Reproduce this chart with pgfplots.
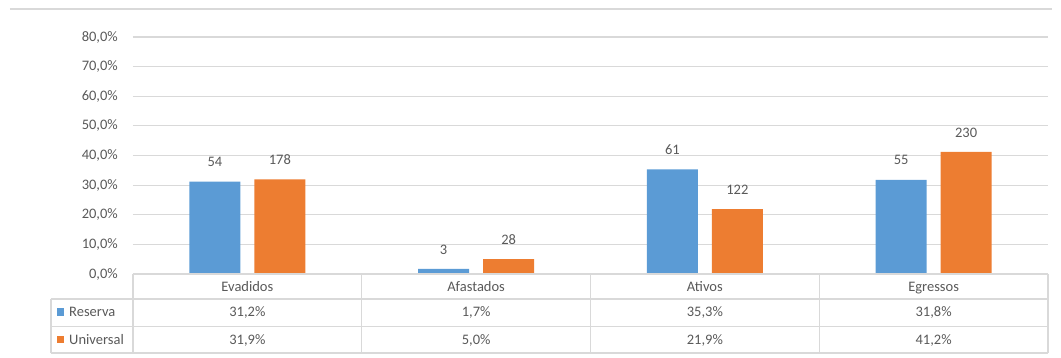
\documentclass[border=0pt]{standalone}
\usepackage{pgfplots}
\pgfplotsset{compat=1.18}
\usepackage{pgfplotstable}
\usepackage{fontspec}
\setmainfont{Carlito}
\definecolor{cblue}{HTML}{5B9BD5}
\definecolor{corange}{HTML}{ED7D31}
\definecolor{ctext}{HTML}{595959}
\definecolor{cgrid}{HTML}{D9D9D9}

\pgfplotstableread{
x res uni nres nuni
0.5 31.2 31.9 54 178
1.5 1.7 5.0 3 28
2.5 35.3 21.9 61 122
3.5 31.8 41.2 55 230
}\data

\begin{document}
\begin{tikzpicture}[font=\fontsize{14.5}{17}\selectfont]
\useasboundingbox (-133pt,-84pt) rectangle (928pt,274pt);
\draw[cgrid, line width=1.2pt] (-123pt,265pt) -- (919pt,265pt);
\begin{axis}[
  at={(0pt,0pt)}, anchor=south west,
  scale only axis, width=915pt, height=237pt,
  xmin=0, xmax=4, ymin=0, ymax=80,
  axis line style={draw=none},
  ytick={0,10,...,80},
  yticklabels={{0,0\%},{10,0\%},{20,0\%},{30,0\%},{40,0\%},{50,0\%},{60,0\%},{70,0\%},{80,0\%}},
  ymajorgrids, grid style={cgrid, line width=1.2pt},
  major tick length=0pt,
  xtick=\empty,
  yticklabel style={inner sep=0pt, xshift=-15pt, text=ctext, font=\fontsize{14.5}{17}\selectfont},
  ybar=14pt, bar width=51pt,
  nodes near coords, point meta=explicit symbolic,
  nodes near coords style={anchor=south, inner sep=0pt, yshift=14.5pt, text=ctext, font=\fontsize{14.5}{17}\selectfont},
  clip=false,
]
\addplot[fill=cblue, draw=none] table[x=x, y=res, meta=nres]{\data};
\addplot[fill=corange, draw=none] table[x=x, y=uni, meta=nuni]{\data};
\end{axis}
% data table
\begin{scope}[cgrid, line width=1.2pt]
\draw (0pt,0pt) -- (915pt,0pt);
\draw (-82pt,-25pt) -- (915pt,-25pt);
\draw (-82pt,-52.5pt) -- (915pt,-52.5pt);
\draw (-82pt,-79pt) -- (915pt,-79pt);
\draw (-82pt,-25pt) -- (-82pt,-79pt);
\foreach \xx in {0,228.75,457.5,686.25,915} {\draw (\xx pt,0pt) -- (\xx pt,-79pt);}
\end{scope}
\fill[cblue] (-76pt,-34.3pt) rectangle (-69pt,-41.7pt);
\fill[corange] (-76pt,-61.7pt) rectangle (-69pt,-69.3pt);
\begin{scope}[every node/.style={text=ctext, inner sep=0pt}]
\node[anchor=base west] at (-64pt,-42.5pt) {Reserva};
\node[anchor=base west] at (-64pt,-70.5pt) {Universal};
\node[anchor=base] at (114.375pt,-17.5pt) {Evadidos};
\node[anchor=base] at (343.125pt,-17.5pt) {Afastados};
\node[anchor=base] at (571.875pt,-17.5pt) {Ativos};
\node[anchor=base] at (800.625pt,-17.5pt) {Egressos};
\node[anchor=base] at (114.375pt,-42.5pt) {31,2\%};
\node[anchor=base] at (343.125pt,-42.5pt) {1,7\%};
\node[anchor=base] at (571.875pt,-42.5pt) {35,3\%};
\node[anchor=base] at (800.625pt,-42.5pt) {31,8\%};
\node[anchor=base] at (114.375pt,-70.5pt) {31,9\%};
\node[anchor=base] at (343.125pt,-70.5pt) {5,0\%};
\node[anchor=base] at (571.875pt,-70.5pt) {21,9\%};
\node[anchor=base] at (800.625pt,-70.5pt) {41,2\%};
\end{scope}
\end{tikzpicture}
\end{document}
